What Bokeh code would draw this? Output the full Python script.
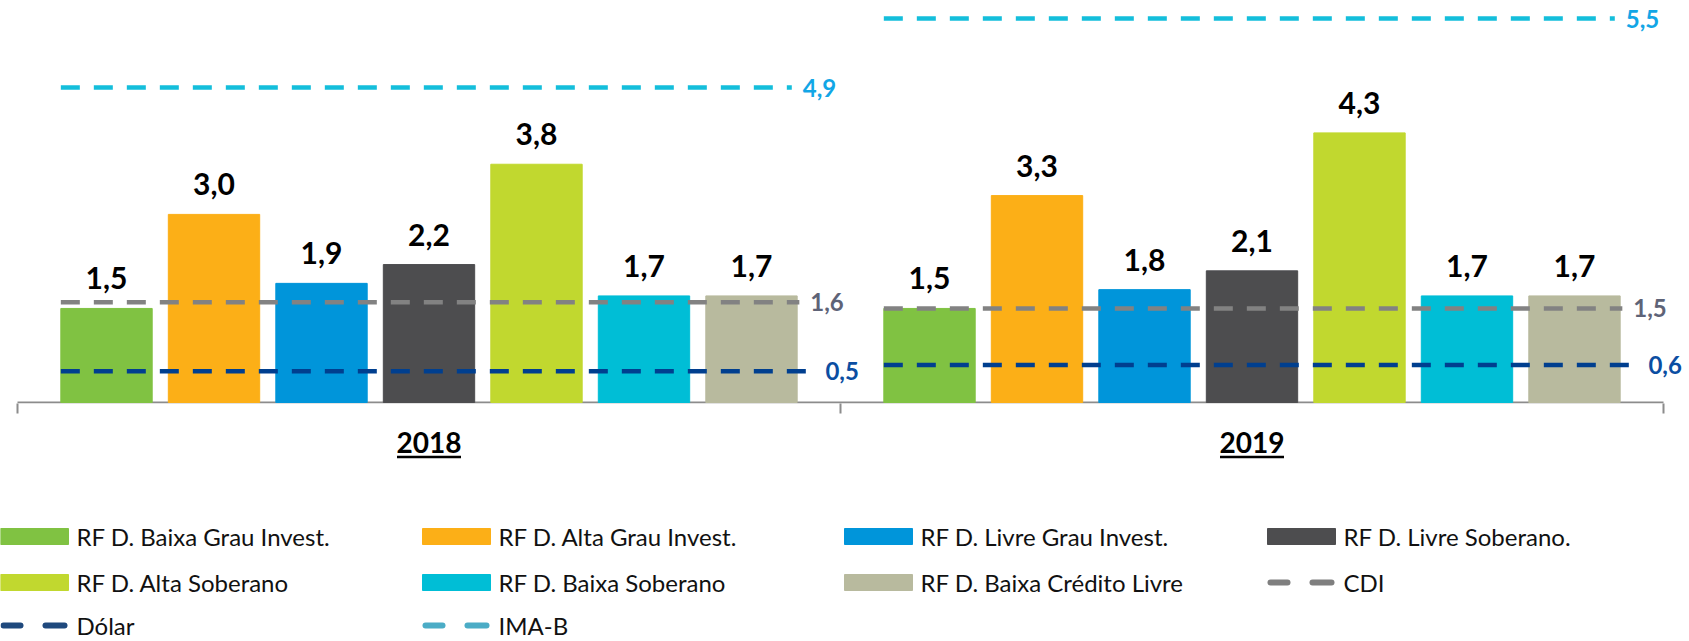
from bokeh.plotting import figure
from bokeh.models import Range1d, FixedTicker, ColumnDataSource, LabelSet
from bokeh.layouts import column
from bokeh.embed import file_html
from bokeh.resources import INLINE
from bokeh.core.properties import value

# ---------------- data ----------------
categories = ["2018", "2019"]
series = [
    "RF D. Baixa Grau Invest.",
    "RF D. Alta Grau Invest.",
    "RF D. Livre Grau Invest.",
    "RF D. Livre Soberano.",
    "RF D. Alta Soberano",
    "RF D.  Baixa Soberano",
    "RF D.  Baixa Crédito Livre",
]
values_2018 = [1.5, 3.0, 1.9, 2.2, 3.8, 1.7, 1.7]
values_2019 = [1.5, 3.3, 1.8, 2.1, 4.3, 1.7, 1.7]
cdi = [1.6, 1.5]
dolar = [0.5, 0.6]
ima_b = [4.9, 5.5]
line_names = ["CDI", "Dólar", "IMA-B"]

# ---------------- style ----------------
bar_colors = ["#80c242", "#fcaf17", "#0095da", "#4d4d4f", "#c1d82f", "#00bed6", "#b8ba9e"]
FONT = "Lato"
FIG_W = 1689
FRAME_H = 403
H1 = 424
H2 = 641 - H1
AXIS_L, AXIS_R = 17, 26          # pixel gaps between canvas edges and category axis
AXIS_W = FIG_W - AXIS_L - AXIS_R
NB = len(series)
M = 0.328          # margin inside a category (in bar pitches)
BW = 0.85          # bar width (in bar pitches)
CW = NB + 2 * M    # category width
PX_PER_UNIT = 62.7
IMAB_START, IMAB_PX = 2.161, 115.0
upx = 2 * CW / AXIS_W


def fmt(v):
    return f"{v:.1f}".replace(".", ",")


# ---------------- main chart ----------------
xr = Range1d(-AXIS_L * upx, 2 * CW + AXIS_R * upx)
p = figure(width=FIG_W, height=H1, output_backend="svg", toolbar_location=None,
           x_range=xr, y_range=Range1d(-1 / PX_PER_UNIT, (FRAME_H - 1) / PX_PER_UNIT),
           y_axis_location=None, min_border_left=0, min_border_right=0,
           min_border_top=0, min_border_bottom=H1 - FRAME_H)
p.extra_y_ranges = {"imab": Range1d(IMAB_START - 1 / IMAB_PX,
                                    IMAB_START + (FRAME_H - 1) / IMAB_PX)}
p.grid.visible = False
p.outline_line_color = None
p.background_fill_color = "white"
p.border_fill_color = "white"

ax = p.xaxis[0]
ax.ticker = FixedTicker(ticks=[], minor_ticks=[0, CW, 2 * CW])
ax.major_tick_line_color = None
ax.axis_line_color = None
ax.minor_tick_line_color = "#8c8c8c"
ax.minor_tick_line_width = 2
ax.minor_tick_in = 0
ax.minor_tick_out = 10

# category axis baseline
p.segment(x0=[0], y0=[0], x1=[2 * CW], y1=[0], line_color="#8c8c8c", line_width=2)

all_values = [values_2018, values_2019]
xs, tops, cols = [], [], []
for g, vals in enumerate(all_values):
    for j, v in enumerate(vals):
        xs.append(g * CW + M + j + 0.5)
        tops.append(v)
        cols.append(bar_colors[j])

bar_src = ColumnDataSource(dict(x=xs, top=tops, color=cols, label=[fmt(v) for v in tops]))
p.vbar(x="x", top="top", width=BW, bottom=0, color="color", source=bar_src)
p.text(x="x", y="top", text="label", source=bar_src, text_align="center",
       text_baseline="middle", y_offset=-30, text_font=value(FONT),
       text_font_style="bold", text_font_size="30px", text_color="black")

line_specs = [
    (cdi, "#828282", "#5e6377", 0.02, "default"),
    (dolar, "#003f8f", "#0b4ea2", 0.16, "default"),
    (ima_b, "#14bedb", "#12a6e6", -0.05, "imab"),
]
for vals, lcolor, tcolor, end_adj, rng in line_specs:
    x0 = [g * CW + M + (1 - BW) / 2 for g in range(len(vals))]
    x1 = [g * CW + CW - M - (1 - BW) / 2 + end_adj for g in range(len(vals))]
    src = ColumnDataSource(dict(x0=x0, x1=x1, y=vals, label=[fmt(v) for v in vals]))
    p.segment(x0="x0", y0="y", x1="x1", y1="y", source=src, line_color=lcolor,
              line_width=4.5, line_dash="19 14", y_range_name=rng)
    p.add_layout(LabelSet(x="x1", y="y", text="label", source=src, x_offset=11,
                          text_align="left", text_baseline="middle",
                          text_font=value(FONT), text_font_style="bold",
                          text_font_size="24px", text_color=tcolor, y_range_name=rng))

# ---------------- category labels + legend ----------------
q = figure(width=FIG_W, height=H2, output_backend="svg", toolbar_location=None,
           x_range=Range1d(0, FIG_W), y_range=Range1d(H2, 0),
           x_axis_location=None, y_axis_location=None, min_border=0)
q.grid.visible = False
q.outline_line_color = None
q.background_fill_color = "white"
q.border_fill_color = "white"
q.extra_x_ranges = {"cat": xr}

cx = [g * CW + CW / 2 for g in range(len(categories))]
q.text(x=cx, y=[18] * len(cx), text=categories, x_range_name="cat",
       text_align="center", text_baseline="middle", text_font=value(FONT),
       text_font_style="bold", text_font_size="28px", text_color="black")
hw = 32 * upx
q.segment(x0=[c - hw for c in cx], x1=[c + hw for c in cx], y0=[32.5] * len(cx),
          y1=[32.5] * len(cx), x_range_name="cat", line_color="black", line_width=2.5)

row_y = [112, 158, 201]
col_x = [0, 422, 844, 1267]
legend_line_colors = {"CDI": "#7f7f7f", "Dólar": "#1f497d", "IMA-B": "#4bacc6"}
items = [(s, "bar", bar_colors[i]) for i, s in enumerate(series)] + \
        [(n, "line", legend_line_colors[n]) for n in line_names]
SW = 68
for i, (name, kind, color) in enumerate(items):
    r, c = divmod(i, 4)
    x0 = col_x[c]
    y = row_y[r]
    if kind == "bar":
        q.quad(left=[x0], right=[x0 + SW], top=[y - 8], bottom=[y + 8], color=color)
    else:
        q.segment(x0=[x0 + 3, x0 + 45], x1=[x0 + 20, x0 + 64],
                  y0=[y, y], y1=[y, y], line_color=color, line_width=6, line_cap="round")
    q.text(x=[x0 + SW + 8], y=[y], text=[name], text_align="left", text_baseline="middle",
           text_font=value(FONT), text_font_size="24px", text_color="#111111")

layout = column(p, q, spacing=0)
open("out.html", "w").write(file_html(layout, INLINE))
